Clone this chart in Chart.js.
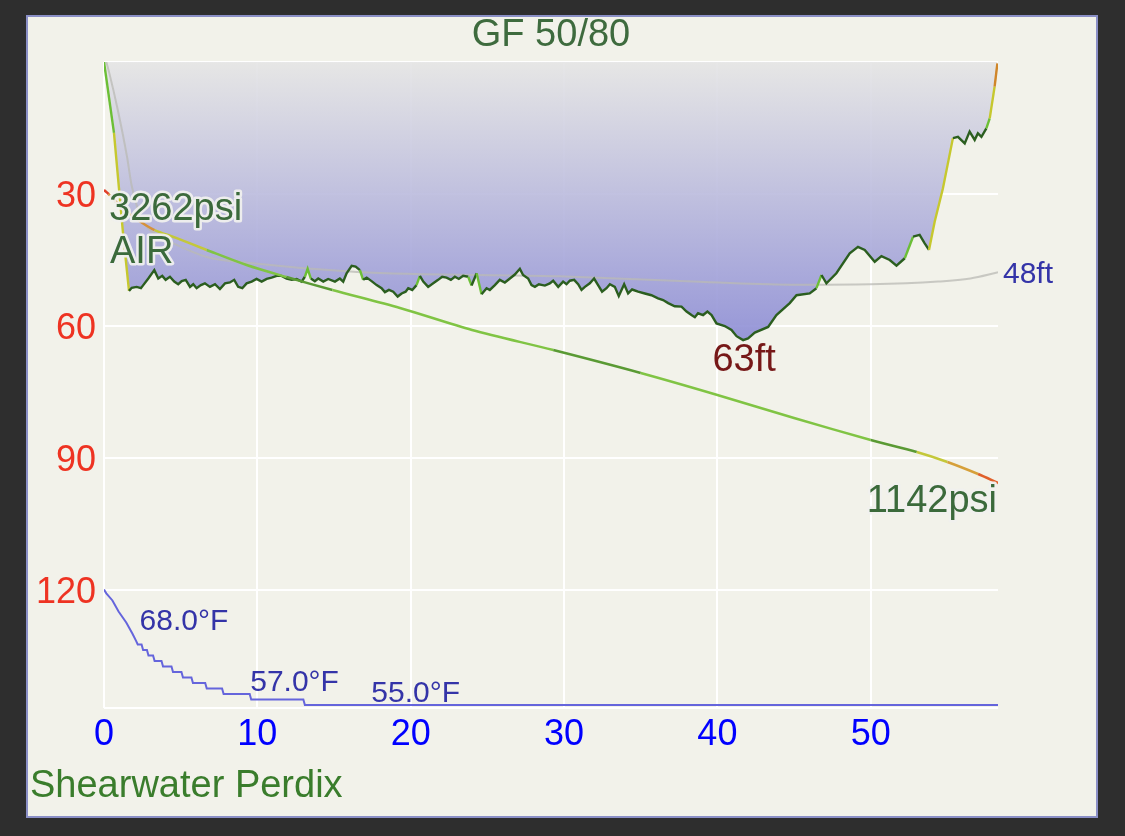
<!DOCTYPE html>
<html><head><meta charset="utf-8">
<script src="https://cdn.jsdelivr.net/npm/chart.js@4.4.1/dist/chart.umd.min.js"></script>
<style>
html,body{margin:0;padding:0;background:#2e2e2e;width:1125px;height:836px;overflow:hidden}
#frame{position:absolute;left:26px;top:15px;width:1068px;height:799px;border:2px solid #8a8fc6;background:#f2f2ea}
#c{position:absolute;left:0;top:0}
</style></head><body>
<div id="frame"></div>
<canvas id="c" width="1125" height="836"></canvas>
<script>
// ---- data ----
const titleText = 'GF 50/80';
const deviceText = 'Shearwater Perdix';
const gasText = 'AIR';
const xTicks = [0, 10, 20, 30, 40, 50];
const yTicks = [30, 60, 90, 120];
const xMax = 58.3;
const yMax = 146.8;

const depthTime = [0,0.65,1.24,1.63,1.81,2.13,2.41,2.56,2.89,3.28,3.54,3.80,4.02,4.30,4.58,4.84,5.07,5.33,5.61,5.82,6.04,6.32,6.58,6.91,7.24,7.56,7.89,8.21,8.49,8.75,9.02,9.30,9.63,9.95,10.28,10.61,10.93,11.26,11.58,11.91,12.24,12.56,12.89,13.10,13.28,13.49,13.75,13.97,14.30,14.62,15.06,
  15.38,15.60,15.82,16.15,16.41,16.69,16.90,17.13,17.45,17.78,18.10,18.32,18.58,18.86,19.15,19.41,19.67,19.84,20.10,20.38,20.60,20.82,21.14,21.47,21.79,22.05,22.34,22.62,22.88,23.14,23.42,23.75,23.97,24.30,24.62,24.95,25.16,25.49,25.81,26.14,26.47,26.79,27.12,27.33,27.66,27.88,28.10,28.36,28.75,
  29.07,29.29,29.62,29.94,30.16,30.38,30.66,30.92,31.14,31.36,31.68,31.96,32.22,32.48,32.77,32.99,33.31,33.57,33.92,34.18,34.44,34.83,35.27,35.70,36.13,36.46,36.79,37.22,37.66,37.99,38.31,38.53,38.74,39.07,39.35,39.62,39.94,40.48,40.92,41.25,41.68,42.00,42.44,
  43.31,43.85,44.72,45.16,46.02,46.46,46.79,47.11,47.76,48.63,49.17,49.61,50.26,50.70,51.24,51.68,52.22,52.76,53.19,53.52,53.80,54.17,54.71,55.36,55.69,56.13,56.45,56.78,56.99,57.22,57.54,57.76,58.08,58.26];
const depthFt = [0,16.1,38.9,52.0,51.3,51.1,51.4,50.7,49.2,47.3,49.2,48.6,49.5,48.8,49.9,50.5,49.8,49.5,51.1,50.5,51.4,50.7,50.3,51.1,50.5,51.6,50.3,50.1,49.5,51.1,51.4,50.3,49.9,49.3,49.9,49.3,49.0,48.6,48.6,49.2,49.5,49.3,49.9,48.8,47.0,49.2,49.8,49.2,49.9,49.3,49.9,
  49.2,49.9,48.0,46.3,46.5,47.3,49.5,49.0,49.8,50.7,51.4,52.3,51.8,52.2,53.3,52.6,52.2,51.4,51.8,50.7,48.6,49.9,51.1,50.3,49.5,48.8,49.0,49.5,48.8,49.3,48.6,48.8,50.8,48.0,52.8,51.4,51.8,50.7,49.5,50.1,49.2,48.3,47.0,48.4,49.2,50.7,51.1,50.5,50.8,
  50.3,49.7,51.1,49.9,50.5,49.7,49.5,50.5,51.8,51.1,50.3,49.2,50.7,52.2,51.4,50.5,51.1,53.2,50.5,52.6,51.7,52.2,52.6,53.0,53.7,54.1,54.8,55.5,55.6,56.7,57.5,58.0,57.1,57.5,56.7,57.5,59.4,60.0,60.9,62.3,63.2,62.8,61.5,
  60.2,57.5,54.8,53.0,52.6,51.4,48.4,50.3,48.0,43.5,42.0,42.7,45.4,44.1,45.0,46.3,44.6,39.7,39.3,41.2,42.7,36.3,28.7,17.3,17.0,18.5,15.8,17.7,16.2,17.0,15.1,12.8,5.6,0.3];

const pressTime = [0,0.3,0.8,1.5,2.5,3.3,4.7,6.7,9.3,11.9,14.9,19.3,24,29.3,35,40,45,50,53,55,57,58.3];
const pressPsi = [3262,3233,3175,3103,3023,2972,2915,2828,2719,2632,2538,2408,2249,2104,1938,1779,1612,1453,1366,1294,1207,1142];

const meanTime = [0.15,0.33,0.9,1.5,1.8,2.5,3.3,4.4,6.7,9.5,16.5,29.7,38,44.7,50,54.4,56.5,58.3];
const meanFt = [0,2.3,10.9,21.5,28,36,39,41,44.3,45.7,47.7,48.7,49.8,50.6,50.5,49.9,49.2,47.8];

const tempTime = [0,0.15,0.55,0.95,1.45,1.85,2.1,2.2,2.45,2.55,2.8,2.9,3.2,3.3,3.75,3.85,4.4,4.5,5.05,5.15,5.7,5.8,6.6,6.7,7.7,7.8,9.5,9.6,13.0,13.1,58.3];
const tempF = [76,75.3,74,72,70,68,66.6,66,66,65,65,64,64,63,63,62,62,61,61,60,60,59,59,58,58,57,57,56,56,55,55];
const tempLabelTime = [1.8, 9.6, 17.5];
const tempLabelF = [68, 57, 55];

// ---- helpers ----
const FONT = "'Liberation Sans', Arial, sans-serif";
Chart.defaults.font.family = FONT;
const pts = (xs, ys) => xs.map((t, i) => ({x: t, y: ys[i]}));
const maxDepth = Math.max(...depthFt);
const maxIdx = depthFt.indexOf(maxDepth);

function depthColor(c) {
  const a = c.p0.parsed, b = c.p1.parsed;
  const r = (a.y - b.y) / (b.x - a.x);
  const s = Math.abs(r);
  if (b.y < 3) return '#d0862a';
  if (r < 0) { if (s < 9) return '#2b5e1f'; if (s < 30) return '#6cbf36'; return '#c6c82e'; }
  if (s < 9) return '#2b5e1f';
  if (s < 13) return '#6cbf36';
  if (s < 28) return '#c6c82e';
  return '#d0862a';
}
function pressColor(c) {
  const t = c.p0.parsed.x;
  const i = c.p0DataIndex;
  if (t < 0.3) return '#e0402a';
  if (t < 3.3) return '#d6913a';
  if (t < 6.7) return '#c4c83a';
  if (t >= 57) return '#e0602a';
  if (t >= 55) return '#d6a03a';
  if (t >= 53) return '#c4c83a';
  return (i % 4 === 1) ? '#5a9a34' : '#80c444';
}
function fillGradient(ctx) {
  const chart = ctx.chart;
  const ca = chart.chartArea;
  if (!ca) return 'rgba(180,180,220,0.88)';
  const yb = chart.scales.y.getPixelForValue(maxDepth);
  const g = chart.ctx.createLinearGradient(0, ca.top, 0, yb);
  g.addColorStop(0, 'rgba(228,228,228,0.88)');
  g.addColorStop(1, 'rgba(137,137,212,0.88)');
  return g;
}

function drawText(ctx, txt, x, y, size, color, align, halo) {
  ctx.save();
  ctx.font = size + 'px ' + FONT;
  ctx.textAlign = align || 'left';
  ctx.textBaseline = 'alphabetic';
  if (halo) {
    ctx.lineJoin = 'round';
    ctx.lineWidth = 5;
    ctx.strokeStyle = 'rgba(240,240,238,0.95)';
    ctx.strokeText(txt, x, y);
  }
  ctx.fillStyle = color;
  ctx.fillText(txt, x, y);
  ctx.restore();
}

const labelPlugin = {
  id: 'labels',
  afterDraw(chart) {
    const ctx = chart.ctx;
    const sx = chart.scales.x, sy = chart.scales.y, sp = chart.scales.p, st = chart.scales.temp;
    const ca = chart.chartArea;
    drawText(ctx, titleText, (ca.left + ca.right) / 2, 46, 38, '#3e6b3e', 'center');
    drawText(ctx, deviceText, 30, 797, 38, '#3a7d2c', 'left');
    const p0x = sx.getPixelForValue(pressTime[0]), p0y = sp.getPixelForValue(pressPsi[0]);
    drawText(ctx, pressPsi[0] + 'psi', p0x + 5, p0y + 30, 38, '#3b6a3b', 'left', true);
    drawText(ctx, gasText, p0x + 6, p0y + 73, 38, '#3b6a3b', 'left', true);
    const pn = pressPsi.length - 1;
    drawText(ctx, pressPsi[pn] + 'psi', sx.getPixelForValue(pressTime[pn]) - 1, sp.getPixelForValue(pressPsi[pn]) + 29, 38, '#3b6a3b', 'right', true);
    drawText(ctx, Math.round(maxDepth) + 'ft', sx.getPixelForValue(depthTime[maxIdx]) + 1, sy.getPixelForValue(maxDepth) + 31, 38, '#761818', 'center');
    const mn = meanFt.length - 1;
    drawText(ctx, Math.round(meanFt[mn]) + 'ft', sx.getPixelForValue(meanTime[mn]) + 5, sy.getPixelForValue(meanFt[mn]) + 11, 30, '#3434a8', 'left');
    for (let i = 0; i < tempLabelTime.length; i++) {
      const lx = sx.getPixelForValue(tempLabelTime[i]);
      const ly = st.getPixelForValue(tempLabelF[i]);
      const off = i === 0 ? 8 : -1;
      drawText(ctx, tempLabelF[i].toFixed(1) + '°F', lx + off, ly - 3, 30, '#3434a8', 'left');
    }
  }
};

new Chart(document.getElementById('c'), {
  type: 'line',
  data: {
    datasets: [
      { label: 'pressure', yAxisID: 'p', data: pts(pressTime, pressPsi), borderColor: '#80c444',
        borderWidth: 2.5, pointRadius: 0, tension: 0.3, fill: false, segment: { borderColor: pressColor } },
      { label: 'depth', yAxisID: 'y', data: pts(depthTime, depthFt), borderColor: '#2b5e1f',
        borderWidth: 2.4, pointRadius: 0, tension: 0, fill: false,
        segment: { borderColor: depthColor } },
      { label: 'mean', yAxisID: 'y', data: pts(meanTime, meanFt), borderColor: 'rgba(185,185,180,0.75)',
        borderWidth: 2, pointRadius: 0, cubicInterpolationMode: 'monotone', fill: false },
      { label: 'temp', yAxisID: 'temp', data: pts(tempTime, tempF), borderColor: '#6565dc',
        borderWidth: 2, pointRadius: 0, tension: 0, fill: false },
      { label: 'depthFill', yAxisID: 'y', data: pts(depthTime, depthFt), borderWidth: 0,
        borderColor: 'rgba(0,0,0,0)', pointRadius: 0, tension: 0, fill: 'origin', backgroundColor: fillGradient }
    ]
  },
  options: {
    responsive: false, animation: false,
    layout: { padding: { left: 0, top: 62, right: 127, bottom: 68 } },
    plugins: { legend: { display: false }, tooltip: { enabled: false }, filler: { drawTime: 'beforeDatasetsDraw' } },
    scales: {
      x: { type: 'linear', min: 0, max: xMax,
        afterBuildTicks: s => { s.ticks = xTicks.map(v => ({ value: v })); },
        afterFit: s => { s.height = 60; },
        grid: { color: '#ffffff', lineWidth: 2, drawTicks: false },
        border: { display: false },
        ticks: { color: '#0000ff', font: { size: 36 }, padding: 5, maxRotation: 0, autoSkip: false } },
      y: { type: 'linear', reverse: true, min: 0, max: yMax,
        afterBuildTicks: s => { s.ticks = [0, ...yTicks, yMax].map(v => ({ value: v })); },
        afterFit: s => { s.width = 104; },
        grid: { color: '#ffffff', lineWidth: 2, drawTicks: false },
        border: { display: false },
        ticks: { color: '#ee3322', font: { size: 36 }, padding: 8, labelOffset: 3, autoSkip: false,
          callback: v => yTicks.includes(v) ? String(v) : '' } },
      p: { type: 'linear', display: false, min: -486, max: 4188 },
      temp: { type: 'linear', display: false, min: 54.45, max: 171.9 }
    }
  },
  plugins: [labelPlugin]
});
</script>
</body></html>
